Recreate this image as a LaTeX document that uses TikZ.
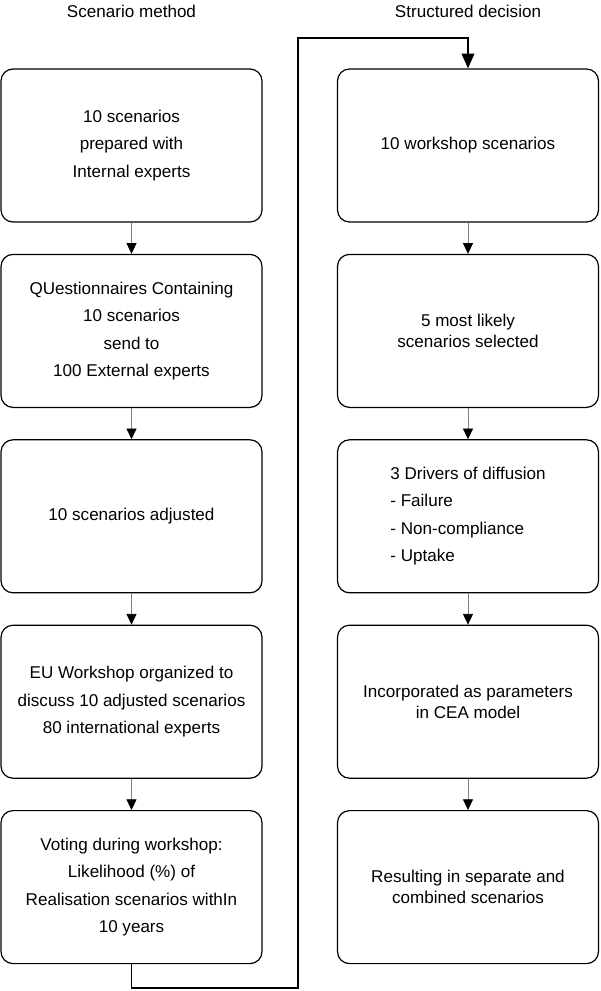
\documentclass[tikz,border=0pt]{standalone}
\usepackage{fontspec}
\setmainfont{Liberation Sans}
\usepackage{tikz}
\usetikzlibrary{positioning,arrows.meta}

\tikzset{
    stepbox/.style={draw,
        rounded corners=9pt,
        line width=0.9pt,
        minimum width=195.75pt,
        minimum height=114.75pt,
        align=center,
        font=\fontsize{12.8}{20.6}\selectfont
    },
    closebox/.style={stepbox,
        font=\fontsize{12.8}{15.6}\selectfont
    },
    flowarrow/.style={draw=gray,
        line width=0.6pt,
        -{Triangle[color=black,length=8pt,width=7.5pt]}
    },
    loopline/.style={draw=black,
        line width=1.1pt,
        -{Triangle[length=11pt,width=9.5pt]}
    }
}

\begin{document}
\begin{tikzpicture}[x=0.75pt,y=-0.75pt]

    \useasboundingbox (0,0) rectangle (600,991);

    % Column titles
    \node[font=\fontsize{12.8}{15}\selectfont, anchor=base] (titleA) at (131.5,18) {Scenario method};
    \node[font=\fontsize{12.8}{15}\selectfont, anchor=base] (titleB) at (468,18) {Structured decision};

    % Scenario method column
    \node [stepbox] (prepared) at (131.5,145.5)
        {10 scenarios\\prepared with\\Internal experts};

    \node [stepbox,
        below=23.4pt of prepared
    ] (questionnaire) {QUestionnaires Containing\\10 scenarios\\send to\\100 External experts};

    \node [stepbox,
        below=23.4pt of questionnaire
    ] (adjusted) {10 scenarios adjusted};

    \node [stepbox,
        below=23.4pt of adjusted
    ] (euworkshop) {EU Workshop organized to\\discuss 10 adjusted scenarios\\80 international experts};

    \node [stepbox,
        below=23.4pt of euworkshop
    ] (voting) {Voting during workshop:\\Likelihood (\%) of\\Realisation scenarios withIn\\10 years};

    % Structured decision column
    \node [stepbox] (wsscen) at (468,145.5) {10 workshop scenarios};

    \node [closebox,
        below=23.4pt of wsscen
    ] (mostlikely) {5 most likely\\scenarios selected};

    \node [stepbox,
        align=left,
        below=23.4pt of mostlikely
    ] (drivers) {3 Drivers of diffusion\\- Failure\\- Non-compliance\\- Uptake};

    \node [closebox,
        below=23.4pt of drivers
    ] (cea) {Incorporated as parameters\\in CEA model};

    \node [closebox,
        below=23.4pt of cea
    ] (resulting) {Resulting in separate and\\combined scenarios};

    % Arrows
    \draw[flowarrow] (prepared) -- (questionnaire);
    \draw[flowarrow] (questionnaire) -- (adjusted);
    \draw[flowarrow] (adjusted) -- (euworkshop);
    \draw[flowarrow] (euworkshop) -- (voting);

    \draw[flowarrow] (wsscen) -- (mostlikely);
    \draw[flowarrow] (mostlikely) -- (drivers);
    \draw[flowarrow] (drivers) -- (cea);
    \draw[flowarrow] (cea) -- (resulting);

    % link between the two columns
    \coordinate (lowturn) at (298,988);
    \coordinate (topturn) at (298,38);
    \draw[loopline] (voting.south) |- (lowturn) -- (topturn) -| (wsscen.north);

\end{tikzpicture}
\end{document}
